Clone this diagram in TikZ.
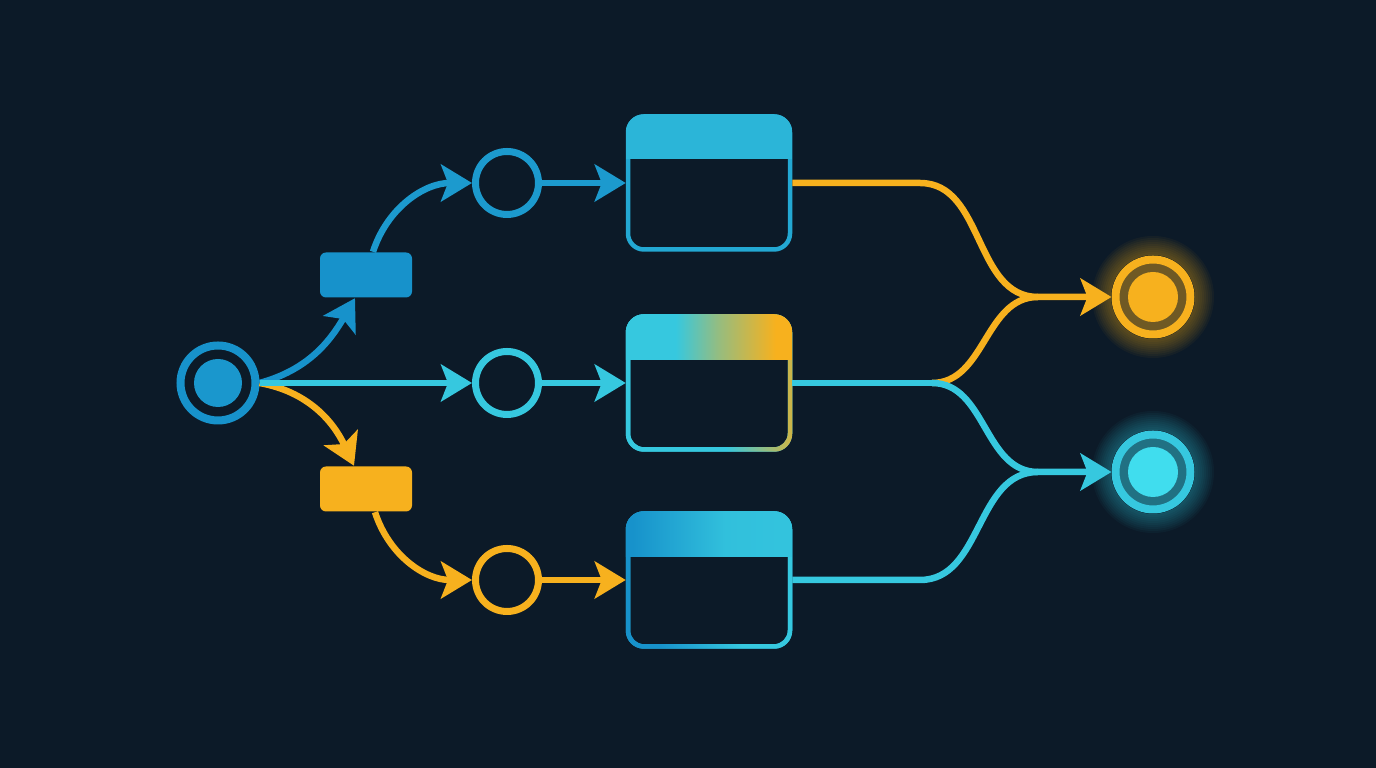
\documentclass[tikz,border=0pt]{standalone}
\usetikzlibrary{arrows.meta}

\definecolor{bg}{HTML}{0C1A28}
\definecolor{blu}{HTML}{1792CB}
\definecolor{cyn}{HTML}{36C8DF}
\definecolor{yel}{HTML}{F7B11E}
\definecolor{cynhi}{HTML}{40DDEE}

% header and border shadings (visible range 25bp--75bp)
\pgfdeclarehorizontalshading{headmid}{100bp}{color(0bp)=(cyn); color(40bp)=(cyn); color(53bp)=(cyn!50!yel); color(70bp)=(yel); color(100bp)=(yel)}
\pgfdeclarehorizontalshading{ringmid}{100bp}{color(0bp)=(cyn); color(55bp)=(cyn); color(75bp)=(yel!80!cyn); color(100bp)=(yel!80!cyn)}
\pgfdeclarehorizontalshading{headlow}{100bp}{color(0bp)=(blu); color(27bp)=(blu); color(55bp)=(cyn!85!blu); color(100bp)=(cyn)}
\pgfdeclarehorizontalshading{ringlow}{100bp}{color(0bp)=(blu); color(35bp)=(blu); color(60bp)=(cyn); color(100bp)=(cyn)}

\begin{document}
\begin{tikzpicture}[
    flow/.style={line width=0.065cm, -{Stealth[length=0.31cm,width=0.37cm,inset=0.07cm]}},
    link/.style={line width=0.065cm},
    stage/.style={circle, draw, line width=0.07cm, minimum size=0.63cm, inner sep=0pt},
    gate/.style={rectangle, rounded corners=0.06cm, minimum width=0.92cm, minimum height=0.45cm, inner sep=0pt},
    panel/.style={rectangle, rounded corners=0.16cm, draw, line width=0.045cm, minimum width=1.62cm, minimum height=1.33cm, inner sep=0pt},
    sink/.style={circle, draw, line width=0.08cm, minimum size=0.75cm, inner sep=0pt}]
  \pgfmathsetmacro{\hd}{0.45}
  % Background
  \fill[bg] (0,0) rectangle (13.76,7.68);

  % Source
  \node[sink, draw=blu] (start) at (2.18,3.85) {};
  \fill[blu!90!cyn] (start) circle (0.24);

  % Gates
  \node[gate, fill=blu] (gateB) at (3.66,4.93) {};
  \node[gate, fill=yel] (gateY) at (3.66,2.79) {};

  % Stages
  \node[stage, draw=blu!85!cyn] (c1) at (5.07,5.85) {};
  \node[stage, draw=cyn] (c2) at (5.07,3.85) {};
  \node[stage, draw=yel] (c3) at (5.07,1.88) {};

  % Panels
  \node[panel, draw=blu!60!cyn] (box1) at (7.09,5.85) {};
  \node[panel, draw=cyn] (box2) at (7.09,3.85) {};
  \node[panel, draw=blu!50!cyn] (box3) at (7.09,1.88) {};
  \shade[shading=ringmid, even odd rule]
    [rounded corners=0.18cm] (box2.south west) rectangle (box2.north east)
    [rounded corners=0.14cm] ([shift={(0.045,0.045)}]box2.south west) rectangle ([shift={(-0.045,-0.045)}]box2.north east);
  \shade[shading=ringlow, even odd rule]
    [rounded corners=0.18cm] (box3.south west) rectangle (box3.north east)
    [rounded corners=0.14cm] ([shift={(0.045,0.045)}]box3.south west) rectangle ([shift={(-0.045,-0.045)}]box3.north east);
  \begin{scope}
    \clip[rounded corners=0.18cm] (box1.south west) rectangle (box1.north east);
    \fill[blu!35!cyn] (box1.north west) rectangle ([yshift=-\hd cm]box1.north east);
  \end{scope}
  \begin{scope}
    \clip[rounded corners=0.18cm] (box2.south west) rectangle (box2.north east);
    \shade[shading=headmid] (box2.north west) rectangle ([yshift=-\hd cm]box2.north east);
  \end{scope}
  \begin{scope}
    \clip[rounded corners=0.18cm] (box3.south west) rectangle (box3.north east);
    \shade[shading=headlow] (box3.north west) rectangle ([yshift=-\hd cm]box3.north east);
  \end{scope}

  % Sinks with glow
  \node[sink, draw=yel, fill=yel!42!bg] (endY) at (11.53,4.71) {};
  \fill[yel] (endY) circle (0.25);
  \node[sink, draw=cyn, fill=cyn!50!bg] (endC) at (11.53,2.96) {};
  \fill[cynhi] (endC) circle (0.25);
  \foreach \r in {0.43,0.45,...,0.63} {
    \fill[yel, opacity=0.045, even odd rule] (endY) circle (\r) circle (0.42);
    \fill[cyn, opacity=0.045, even odd rule] (endC) circle (\r) circle (0.42);
  }

  % Left side
  \draw[flow, yel] (start.east) to[out=-10,in=115] ([xshift=-0.12cm]gateY.north);
  \draw[flow, blu] (start.east) to[out=15,in=-120] ([xshift=-0.11cm]gateB.south);
  \draw[flow, cyn] (start.east) -- (c2);
  \draw[flow, blu!85!cyn] ([xshift=0.07cm]gateB.north) to[out=72,in=180] (c1);
  \draw[flow, yel] ([xshift=0.09cm]gateY.south) to[out=-72,in=180] (c3);
  \draw[flow, blu!85!cyn] (c1) -- (box1);
  \draw[flow, cyn] (c2) -- (box2);
  \draw[flow, yel] (c3) -- (box3);

  % Right side
  \coordinate (k1) at (9.2,5.85);
  \coordinate (s2) at (9.32,3.85);
  \coordinate (k3) at (9.2,1.88);
  \coordinate (m1) at (10.38,4.71);
  \coordinate (m2) at (10.38,2.96);
  \draw[flow, yel] (box1.east) -- (k1) to[out=0,in=180] (m1) -- (endY);
  \draw[link, yel] (s2) to[out=0,in=180] (m1);
  \draw[link, cyn] (s2) to[out=0,in=180] (m2);
  \draw[link, cyn] (box2.east) -- (s2);
  \draw[flow, cyn] (box3.east) -- (k3) to[out=0,in=180] (m2) -- (endC);
\end{tikzpicture}
\end{document}
